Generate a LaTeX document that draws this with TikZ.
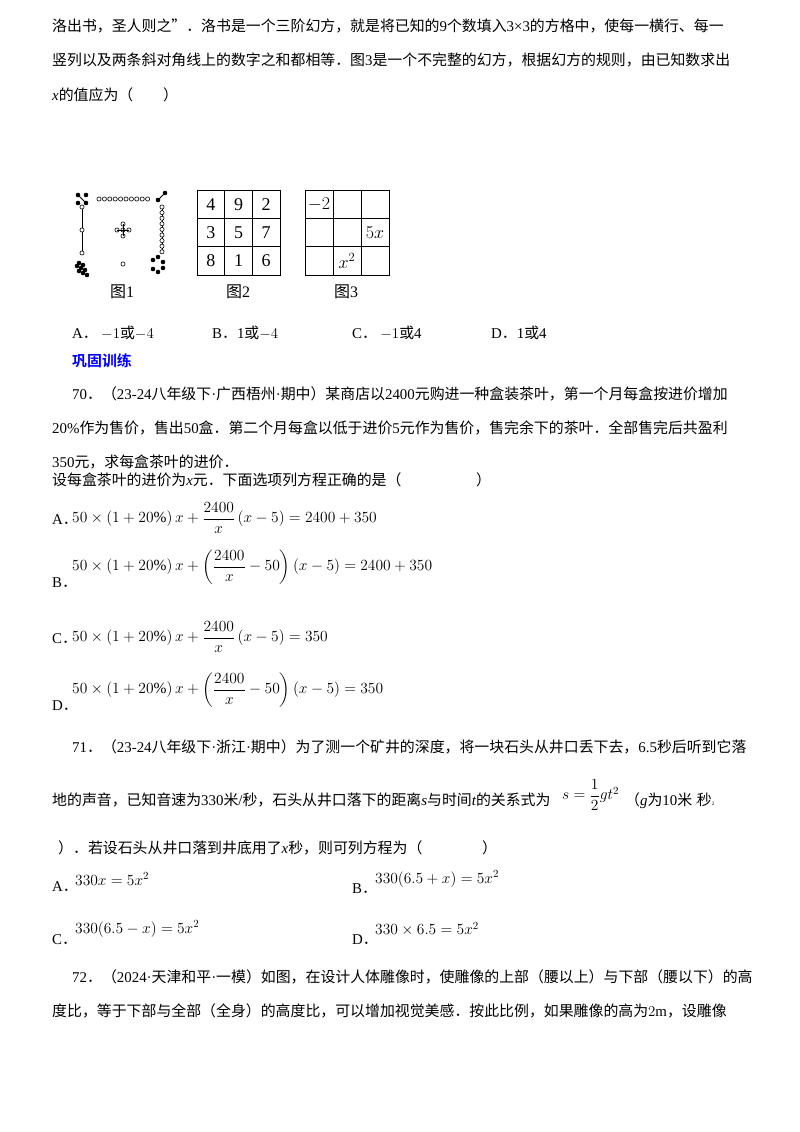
\RequirePackage{fix-cm}
\documentclass[tikz,border=0pt]{standalone}
\usepackage{amsmath}
\usepackage{fontspec}
\setmainfont{Liberation Serif}
\newfontfamily\cjk{Noto Sans CJK SC}
\newfontfamily\cjkb{Noto Sans CJK SC}[BoldFont={* Bold}]
\newcommand{\md}{{\rmfamily\textperiodcentered}}
\begin{document}
\begin{tikzpicture}[x=1pt,y=-1pt,
  t/.style={anchor=base west,inner sep=0pt,font=\fontsize{14.9}{16}\selectfont\cjk},
  m/.style={anchor=west,inner sep=0pt,font=\fontsize{15.5}{17}\selectfont},
  g/.style={font=\fontsize{18}{20}\selectfont},
  oc/.style={draw,fill=white,line width=0.6pt,circle,inner sep=0pt,minimum size=4.2pt},
  bc/.style={fill=black,circle,inner sep=0pt,minimum size=4.6pt}]
\useasboundingbox[fill=white] (0,0) rectangle (800,1132);
% paragraph 1
\node[t] (l1) at (52,32) {洛出书，圣人则之”．洛书是一个三阶幻方，就是将已知的{\rmfamily 9}个数填入{\rmfamily 3×3}的方格中，使每一横行、每一};
\node[t] (l2) at (52,66) {竖列以及两条斜对角线上的数字之和都相等．图{\rmfamily 3}是一个不完整的幻方，根据幻方的规则，由已知数求出};
\node[t] (l3) at (52,100) {{\rmfamily\itshape x}的值应为（\quad\quad ）};
% figure 1 (Luoshu)
\foreach \i in {0,...,9} \node[oc] (tp\i) at (99+5.4*\i,199) {};
\draw[line width=0.8pt] (82,207) -- (82,253);
\foreach \y in {207,230,253} \node[oc] at (82,\y) {};
\node[bc] at (78,195) {};\node[bc] at (86,195) {};\node[bc] at (78,203) {};\node[bc] at (86,203) {};
\draw[line width=0.8pt] (78,195)--(86,203);
\draw[line width=0.8pt] (162,206) -- (162,252);
\foreach \i in {0,...,8} \node[oc] at (162,207+5.6*\i) {};
\draw[line width=1pt] (158,200)--(165,193); \node[bc] at (158,200) {};\node[bc] at (165,193) {};
\foreach \a/\b in {0/0,1/0,0/1,1/1,2/1,1/2,2/2,3/2} \node[bc] at (79+4*\a-2*\b,263+3*\b+4*\a/2) {};
\foreach \p in {(153,260),(158,257),(163,262),(153,269),(158,272),(163,268)} \node[bc] at \p {};
\node[oc] at (123,230) {};\node[oc] at (117,230) {};\node[oc] at (129,230) {};\node[oc] at (123,224) {};\node[oc] at (123,236) {};
\draw[line width=0.6pt] (117,230)--(129,230) (123,224)--(123,236);
\node[oc] at (123,264) {};
\node[t,font=\fontsize{16}{18}\selectfont\cjk] (c1) at (110,297) {图{\rmfamily 1}};
% figure 2
\draw[line width=0.8pt] (197,190) rectangle (280,275);
\draw[line width=0.8pt] (224.7,190)--(224.7,275) (252.3,190)--(252.3,275) (197,218.3)--(280,218.3) (197,246.7)--(280,246.7);
\foreach \v [count=\k from 0] in {4,9,2,3,5,7,8,1,6}
  \node[g] at ({210.8+27.7*mod(\k,3)},{204.2+28.3*int(\k/3)}) {\v};
\node[t,font=\fontsize{16}{18}\selectfont\cjk] (c2) at (226,297) {图{\rmfamily 2}};
% figure 3
\draw[line width=0.8pt] (305,190) rectangle (389,275);
\draw[line width=0.8pt] (333,190)--(333,275) (361,190)--(361,275) (305,218.3)--(389,218.3) (305,246.7)--(389,246.7);
\node[g] at (319,204) {$-2$};
\node[g] at (375,233) {$5x$};
\node[g] at (347,261) {$x^2$};
\node[t,font=\fontsize{16}{18}\selectfont\cjk] (c3) at (334,297) {图{\rmfamily 3}};
% options
\node[t] (oa) at (72,338) {{\rmfamily A}． $-1$或$-4$};
\node[t] (ob) at (212,338) {{\rmfamily B}．{\rmfamily 1}或$-4$};
\node[t] (oc) at (352,338) {{\rmfamily C}． $-1$或{\rmfamily 4}};
\node[t] (od) at (491,338) {{\rmfamily D}．{\rmfamily 1}或{\rmfamily 4}};
\node[t,font=\fontsize{14.9}{16}\selectfont\cjkb\bfseries,text=blue] (gg) at (72,366) {巩固训练};
% 70
\node[t] (p1) at (72,399) {{\rmfamily 70}．（{\rmfamily 23-24}八年级下\md 广西梧州\md 期中）某商店以{\rmfamily 2400}元购进一种盒装茶叶，第一个月每盒按进价增加};
\node[t] (p2) at (52,433) {{\rmfamily 20\%}作为售价，售出{\rmfamily 50}盒．第二个月每盒以低于进价{\rmfamily 5}元作为售价，售完余下的茶叶．全部售完后共盈利};
\node[t] (p3) at (52,467) {{\rmfamily 350}元，求每盒茶叶的进价．};
\node[t] (p4) at (52,485) {设每盒茶叶的进价为{\rmfamily\itshape x}元．下面选项列方程正确的是（\quad\quad\quad\quad\quad ）};
\node[t] (qa) at (52,524) {{\rmfamily A}．};
\node[m] (fa) at (72,518) {$50\times\left(1+20\%\right)x+\dfrac{2400}{x}\left(x-5\right)=2400+350$};
\node[t] (qb) at (52,587) {{\rmfamily B}．};
\node[m] (fb) at (72,567) {$50\times\left(1+20\%\right)x+\left(\dfrac{2400}{x}-50\right)\left(x-5\right)=2400+350$};
\node[t] (qc) at (52,643) {{\rmfamily C}．};
\node[m] (fc) at (72,637) {$50\times\left(1+20\%\right)x+\dfrac{2400}{x}\left(x-5\right)=350$};
\node[t] (qd) at (52,710) {{\rmfamily D}．};
\node[m] (fd) at (72,690) {$50\times\left(1+20\%\right)x+\left(\dfrac{2400}{x}-50\right)\left(x-5\right)=350$};
% 71
\node[t] (r1) at (72,752) {{\rmfamily 71}．（{\rmfamily 23-24}八年级下\md 浙江\md 期中）为了测一个矿井的深度，将一块石头从井口丢下去，{\rmfamily 6.5}秒后听到它落};
\node[t] (r2) at (52,805) {地的声音，已知音速为{\rmfamily 330}米{\rmfamily /}秒，石头从井口落下的距离{\rmfamily\itshape s}与时间{\rmfamily\itshape t}的关系式为};
\node[m] (rf) at (562,795) {$s=\dfrac{1}{2}gt^{2}$};
\node[t] (r2b) at (625,805) {（{\rmfamily\itshape g}为{\rmfamily 10}米 {\rmfamily\tiny /}秒{\rmfamily\tiny 2}};
\node[t] (r3) at (58,853) {）．若设石头从井口落到井底用了{\rmfamily\itshape x}秒，则可列方程为（\quad\quad\quad\quad ）};
\node[t] (sa) at (52,891) {{\rmfamily A}．};
\node[m] (sfa) at (75,879) {$330x=5x^2$};
\node[t] (sb) at (352,893) {{\rmfamily B}．};
\node[m] (sfb) at (375,879) {$330(6.5+x)=5x^2$};
\node[t] (sc) at (52,944) {{\rmfamily C}．};
\node[m] (sfc) at (75,929) {$330(6.5-x)=5x^2$};
\node[t] (sd) at (352,944) {{\rmfamily D}．};
\node[m] (sfd) at (375,929) {$330\times6.5=5x^2$};
% 72
\node[t] (u1) at (72,982) {{\rmfamily 72}．（{\rmfamily 2024}\md 天津和平\md 一模）如图，在设计人体雕像时，使雕像的上部（腰以上）与下部（腰以下）的高};
\node[t] (u2) at (52,1016) {度比，等于下部与全部（全身）的高度比，可以增加视觉美感．按此比例，如果雕像的高为$2\mathrm{m}$，设雕像};
\end{tikzpicture}
\end{document}
